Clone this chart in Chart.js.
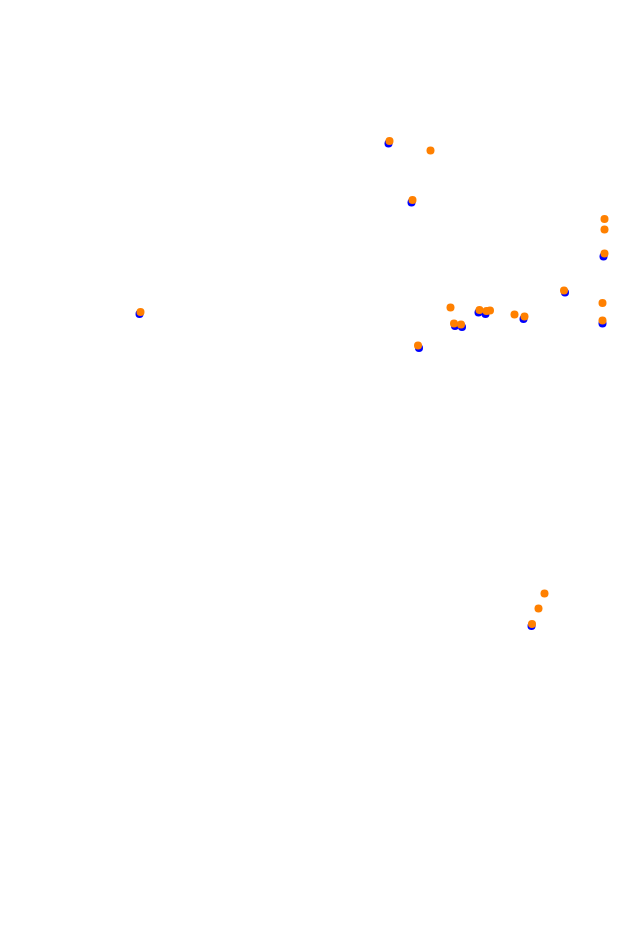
<!DOCTYPE html>
<html>
<head>
<meta charset="utf-8">
<script src="https://cdn.jsdelivr.net/npm/chart.js@4/dist/chart.umd.min.js"></script>
<style>
  html, body { margin: 0; padding: 0; background: #fff; }
  #wrap { width: 621px; height: 939px; }
</style>
</head>
<body>
<div id="wrap"><canvas id="chart" width="621" height="939"></canvas></div>
<script>
/* ── Point locations (plot units, y grows downward) ── */

const blueX = [388.5, 411.5, 603.5, 602.5, 565, 455, 462, 478.5, 485.5, 523.5, 419, 531.5, 139.5];
const blueY = [143.5, 202.5, 256.5, 323.5, 292.5, 326, 327, 312.5, 314, 319, 348, 626, 314];

const orangeX = [389.5, 430.5, 412.5, 604.5, 604.5, 604.5, 602.5, 602.5, 564, 450.5, 454, 461,
  479.5, 486.5, 490, 514.5, 524.5, 418, 544.5, 538.5, 532, 140.5];
const orangeY = [141, 150.5, 200, 219, 229.5, 253.5, 303, 320.5, 290.5, 307.5, 323.5, 324.5,
  310, 311, 310.5, 314.5, 316.5, 345.5, 593.5, 608.5, 624, 312];

const BLUE = "#0000ff";
const ORANGE = "#ff8000";

const points = (xs, ys) => xs.map((x, i) => ({ x, y: ys[i] }));

const dot = (label, data, color) => ({
  label,
  data,
  backgroundColor: color,
  borderColor: color,
  borderWidth: 0,
  pointRadius: 4,
  pointHoverRadius: 4,
});

// dataset 0 is painted last, so orange sits over blue
new Chart(document.getElementById("chart"), {
  type: "scatter",
  data: {
    datasets: [
      dot("orange", points(orangeX, orangeY), ORANGE),
      dot("blue", points(blueX, blueY), BLUE),
    ],
  },
  options: {
    responsive: false,
    animation: false,
    layout: { padding: 0 },
    plugins: { legend: { display: false }, tooltip: { enabled: false } },
    scales: {
      x: { type: "linear", min: 4, max: 617, display: false },
      y: { type: "linear", min: 4, max: 935, reverse: true, display: false },
    },
  },
});
</script>
</body>
</html>
